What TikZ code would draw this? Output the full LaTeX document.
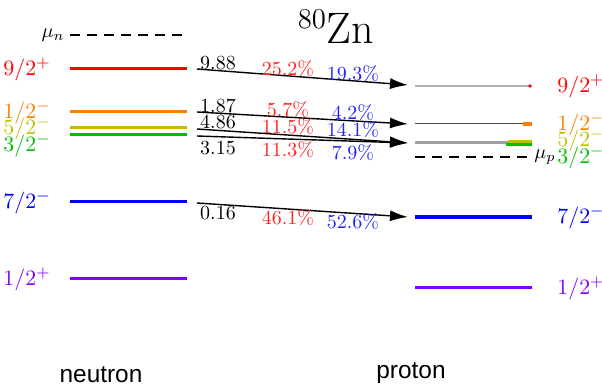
\documentclass[tikz,border=0pt]{standalone}
\usepackage{fontspec}
\usepackage{tikz}
\usetikzlibrary{arrows.meta,positioning,calc}
\newfontfamily\sidefont{Liberation Sans}
\definecolor{lvred}{HTML}{FF0000}
\definecolor{lvorange}{HTML}{FF8000}
\definecolor{lvolive}{HTML}{C0C000}
\definecolor{lvgreen}{HTML}{00C000}
\definecolor{lvblue}{HTML}{0000FF}
\definecolor{lvpurple}{HTML}{8000FF}
\definecolor{pcred}{HTML}{FF2020}
\definecolor{pcblue}{HTML}{2020FF}
\tikzset{
  level/.style={line width=1.5pt, draw=#1},
  level/.default=black,
  fermi/.style={dash pattern=on 5pt off 3.5pt, line width=0.7pt},
  spinlab/.style={anchor=west, inner sep=0pt, text=#1, font=\fontsize{11.3}{13}\selectfont},
  pcnode/.style={inner sep=0pt, text=#1},
  pcnode/.default=black,
  migarrow/.style={-{Latex[length=9pt,width=5.5pt]}, line width=0.7pt},
  sidelab/.style={font=\sidefont\fontsize{12.2}{14}\selectfont, inner sep=0pt}
}
\begin{document}
\begin{tikzpicture}[x=0.5pt, y=-0.5pt]
\useasboundingbox (0,0) rectangle (602,391);

\node (title) at (336,27) {\fontsize{22}{26}\selectfont$^{80}$Zn};

% neutron side
\draw[fermi] (70,35) -- (187,35);
\node[inner sep=0pt, anchor=east] (mun) at (65,35) {$\mu_n$};
\draw[level=lvred]    (70,69)  -- (187,69);
\draw[level=lvorange] (70,112) -- (187,112);
\draw[level=lvolive]  (70,128) -- (187,128);
\draw[level=lvgreen]  (70,135) -- (187,135);
\draw[level=lvblue]   (70,202) -- (187,202);
\draw[level=lvpurple] (70,279) -- (187,279);

\node[spinlab=lvred]    (nl92p) at (3,69)  {$9/2^+$};
\node[spinlab=lvorange] (nl12m) at (3,112) {$1/2^-$};
\node[spinlab=lvolive]  (nl52m) at (3,128) {$5/2^-$};
\node[spinlab=lvgreen]  (nl32m) at (3,145) {$3/2^-$};
\node[spinlab=lvblue]   (nl72m) at (3,202) {$7/2^-$};
\node[spinlab=lvpurple] (nl12p) at (3,279) {$1/2^+$};

% proton side
\draw[gray!60, line width=0.8pt] (415,86) -- (532,86);
\fill[lvred] (530,86) circle (1.8);
\draw[black!70, line width=0.5pt] (415,124) -- (532,124);
\draw[lvorange, line width=1.6pt] (523,124) -- (532,124);
\draw[gray!75, line width=1.5pt] (415,143) -- (532,143);
\draw[lvgreen, line width=1.2pt] (506,144.5) -- (532,144.5);
\draw[lvolive, line width=1.4pt] (508,141.5) -- (532,141.5);
\draw[fermi] (415,157) -- (532,157);
\node[inner sep=0pt, anchor=west] (mup) at (534,157) {$\mu_p$};
\draw[lvblue, line width=2pt]   (415,217) -- (532,217);
\draw[level=lvpurple] (415,288) -- (532,288);

\node[spinlab=lvred]    (pl92p) at (557,86)  {$9/2^+$};
\node[spinlab=lvorange] (pl12m) at (557,124) {$1/2^-$};
\node[spinlab=lvolive]  (pl52m) at (557,140) {$5/2^-$};
\node[spinlab=lvgreen]  (pl32m) at (557,157) {$3/2^-$};
\node[spinlab=lvblue]   (pl72m) at (557,217) {$7/2^-$};
\node[spinlab=lvpurple] (pl12p) at (557,288) {$1/2^+$};

% arrows
\coordinate (a1s) at (197,69);  \coordinate (a1e) at (408,85);
\coordinate (a2s) at (197,112); \coordinate (a2e) at (408,124);
\coordinate (a3s) at (197,129); \coordinate (a3e) at (408,143);
\coordinate (a4s) at (197,136); \coordinate (a4e) at (408,143);
\coordinate (a5s) at (197,203); \coordinate (a5e) at (408,217);
\draw[migarrow] (a1s) -- (a1e);
\draw[migarrow] (a2s) -- (a2e);
\draw[migarrow] (a3s) -- (a3e);
\draw[migarrow] (a4s) -- (a4e);
\draw[migarrow] (a5s) -- (a5e);

\node[pcnode] (e1) at (218,63)  {9.88};
\node[pcnode=pcred]  (r1) at (288,69)  {25.2\%};
\node[pcnode=pcblue] (b1) at (353,74)  {19.3\%};
\node[pcnode] (e2) at (218,106) {1.87};
\node[pcnode=pcred]  (r2) at (288,110) {5.7\%};
\node[pcnode=pcblue] (b2) at (353,113) {4.2\%};
\node[pcnode] (e3) at (218,122) {4.86};
\node[pcnode=pcred]  (r3) at (288,127) {11.5\%};
\node[pcnode=pcblue] (b3) at (353,130) {14.1\%};
\node[pcnode] (e4) at (218,148) {3.15};
\node[pcnode=pcred]  (r4) at (288,150) {11.3\%};
\node[pcnode=pcblue] (b4) at (353,153) {7.9\%};
\node[pcnode] (e5) at (218,213) {0.16};
\node[pcnode=pcred]  (r5) at (288,218) {46.1\%};
\node[pcnode=pcblue] (b5) at (353,222) {52.6\%};

\node[sidelab] (neut) at (101,375) {neutron};
\node[sidelab] (prot) at (411,373) {proton};
\end{tikzpicture}
\end{document}
